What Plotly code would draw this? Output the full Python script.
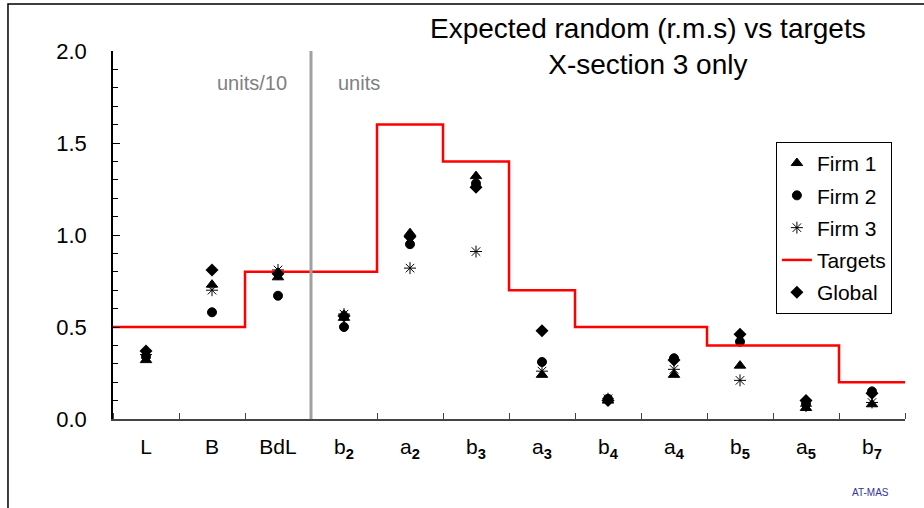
import plotly.graph_objects as go

# data
categories = ["L", "B", "BdL", "b<sub><b>2</b></sub>", "a<sub><b>2</b></sub>", "b<sub><b>3</b></sub>",
              "a<sub><b>3</b></sub>", "b<sub><b>4</b></sub>", "a<sub><b>4</b></sub>", "b<sub><b>5</b></sub>",
              "a<sub><b>5</b></sub>", "b<sub><b>7</b></sub>"]
firm1 = [0.32, 0.73, 0.77, 0.55, 1.01, 1.32, 0.24, 0.10, 0.24, 0.29, 0.06, 0.08]
firm2 = [0.34, 0.58, 0.67, 0.50, 0.95, 1.28, 0.31, 0.11, 0.33, 0.42, 0.08, 0.15]
firm3 = [0.35, 0.70, 0.81, 0.57, 0.82, 0.91, 0.26, 0.11, 0.27, 0.21, 0.07, 0.09]
targets = [0.5, 0.5, 0.8, 0.8, 1.6, 1.4, 0.7, 0.5, 0.5, 0.4, 0.4, 0.2]
global_ = [0.37, 0.81, 0.79, 0.56, 0.99, 1.26, 0.48, 0.10, 0.32, 0.46, 0.10, 0.14]
split_after = "BdL"  # units/10 on the left, units on the right

FONT = "Liberation Sans"
xs = list(range(len(categories)))
split_x = categories.index(split_after) + 0.5

fig = go.Figure()

marker_series = [
    ("Firm 1", firm1, "triangle-up", 10),
    ("Firm 2", firm2, "circle", 9),
    ("Firm 3", firm3, "asterisk-open", 10),
]
for name, vals, sym, size in marker_series:
    fig.add_trace(go.Scatter(
        x=xs, y=vals, mode="markers", name=name, legendgroup=name,
        marker=dict(symbol=sym, size=size, color="black",
                    line=dict(color="black", width=1)),
    ))

# step line spans each category's full width
step_x = [i - 0.5 for i in xs] + [xs[-1] + 0.5]
step_y = targets + [targets[-1]]
fig.add_trace(go.Scatter(
    x=step_x, y=step_y, mode="lines", name="Targets", legendgroup="Targets",
    line=dict(color="#ff0000", width=2.5, shape="hv"),
))

fig.add_trace(go.Scatter(
    x=xs, y=global_, mode="markers", name="Global", legendgroup="Global",
    marker=dict(symbol="diamond", size=10, color="black"),
))

# divider between units/10 and units
fig.add_shape(type="line", xref="x", yref="y", x0=split_x, x1=split_x, y0=-0.01, y1=2.02,
              line=dict(color="#a0a0a0", width=3), layer="above")

# outer frame
fig.add_shape(type="rect", xref="paper", yref="paper", x0=-0.1326, x1=1.2, y0=-0.4, y1=1.128,
              line=dict(color="black", width=1.5))

fig.add_annotation(text="Expected random (r.m.s) vs targets<br>X-section 3 only",
                   xref="paper", yref="paper", x=0.675, y=1.013, showarrow=False,
                   xanchor="center", yanchor="middle",
                   font=dict(family=FONT, size=28, color="black"))
fig.add_annotation(text="units/10", xref="paper", yref="paper", x=0.176, y=0.913, showarrow=False,
                   xanchor="center", yanchor="middle",
                   font=dict(family=FONT, size=20, color="#808080"))
fig.add_annotation(text="units", xref="paper", yref="paper", x=0.31, y=0.913, showarrow=False,
                   xanchor="center", yanchor="middle",
                   font=dict(family=FONT, size=20, color="#808080"))
fig.add_annotation(text="AT-MAS", xref="paper", yref="paper", x=0.957, y=-0.201, showarrow=False,
                   xanchor="center", yanchor="middle",
                   font=dict(family=FONT, size=10, color="#333399"))

fig.update_layout(
    width=924, height=508,
    margin=dict(l=113, r=19, t=51, b=89),
    paper_bgcolor="white", plot_bgcolor="white",
    font=dict(family=FONT, color="black"),
    showlegend=True,
    legend=dict(x=0.837, y=0.753, xanchor="left", yanchor="top",
                bordercolor="black", borderwidth=1, bgcolor="white",
                font=dict(family=FONT, size=21), tracegroupgap=2),
)
fig.update_xaxes(
    range=[-0.5, len(categories) - 0.5], tickvals=xs, ticktext=categories,
    ticks="", showgrid=False, zeroline=False,
    showline=True, linecolor="#444", linewidth=2,
    tickfont=dict(family=FONT, size=21), ticklabelstandoff=8,
    minor=dict(tick0=0.5, dtick=1, ticks="inside", ticklen=6, tickcolor="#444", showgrid=False),
)
fig.update_yaxes(
    range=[0, 2.0], tickvals=[0, 0.5, 1.0, 1.5, 2.0], tickformat=".1f",
    ticks="inside", ticklen=7, tickcolor="black",
    showgrid=False, zeroline=False, showline=True, linecolor="black", linewidth=1.5,
    tickfont=dict(family=FONT, size=22), ticklabelstandoff=20,
    minor=dict(dtick=0.1, ticks="inside", ticklen=5, tickcolor="black", showgrid=False),
)

# drop the page's default body margin so the figure sits at the window's corner
fig.write_html("out.html", config={"displayModeBar": False},
               post_script="document.body.style.margin='0';")
